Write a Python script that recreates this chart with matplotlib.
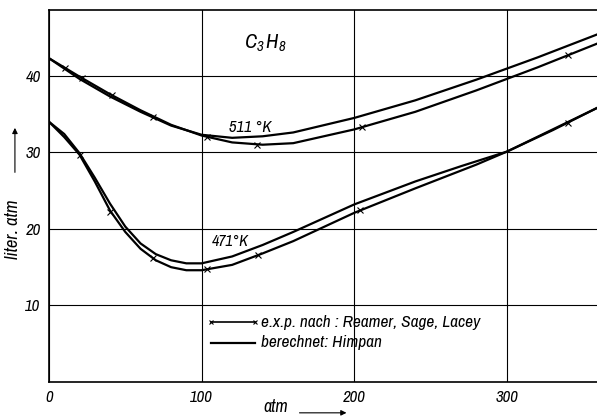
import numpy as np
import matplotlib
matplotlib.use("Agg")
import matplotlib.pyplot as plt
from matplotlib import font_manager

names = sorted({f.name for f in font_manager.fontManager.ttflist})
narrow = [n for n in names if 'Narrow' in n or 'Condensed' in n]
plt.rcParams['font.family'] = narrow[:1] + ['DejaVu Sans']
plt.rcParams['font.style'] = 'italic'
plt.rcParams['font.stretch'] = 'condensed'
if narrow:
    plt.rcParams['mathtext.fontset'] = 'custom'
    plt.rcParams['mathtext.it'] = narrow[0] + ':italic'
    plt.rcParams['mathtext.rm'] = narrow[0]

# 511 K - berechnet (Himpan)
x511_calc = [0, 20, 40, 60, 80, 100, 120, 140, 160, 200, 240, 280, 320, 359]
y511_calc = [42.3, 39.6, 37.3, 35.3, 33.5, 32.3, 31.9, 32.1, 32.6, 34.5, 36.8, 39.5, 42.4, 45.4]

# 511 K - exp. curve and measured points
x511_exp = [0, 10, 20, 40, 60, 80, 100, 120, 140, 160, 200, 240, 280, 320, 359]
y511_exp = [42.3, 41.1, 39.9, 37.6, 35.5, 33.6, 32.2, 31.3, 31.0, 31.2, 33.0, 35.3, 38.1, 41.1, 44.2]
x511_pts = [10.5, 21.6, 41.3, 68, 103.6, 136, 205, 340]
y511_pts = [41.0, 39.7, 37.5, 34.6, 32.0, 31.0, 33.3, 42.7]

# 471 K - berechnet (Himpan)
x471_calc = [0, 10, 20, 30, 40, 50, 60, 70, 80, 90, 100, 120, 140, 160, 200, 240, 270, 300, 330, 359]
y471_calc = [34.0, 32.4, 29.9, 26.7, 23.3, 20.3, 18.1, 16.7, 15.9, 15.5, 15.5, 16.4, 17.9, 19.6, 23.2, 26.2, 28.2, 30.1, 32.9, 35.8]

# 471 K - exp. curve and measured points
x471_exp = [0, 10, 20, 30, 40, 50, 60, 70, 80, 90, 100, 120, 140, 160, 200, 240, 280, 300, 330, 359]
y471_exp = [34.0, 32.0, 29.7, 26.2, 22.4, 19.6, 17.4, 15.9, 15.0, 14.6, 14.6, 15.3, 16.8, 18.4, 22.1, 25.3, 28.4, 30.1, 33.0, 35.8]
x471_pts = [20.3, 40, 68, 103.6, 137, 204, 340]
y471_pts = [29.7, 22.2, 16.2, 14.7, 16.6, 22.5, 33.9]

fig = plt.figure(figsize=(5.97, 4.17), dpi=100)
ax = fig.add_axes([0.082, 0.084, 0.918, 0.892])

lw = 1.6
ax.plot(x511_calc, y511_calc, color='black', lw=lw)
ax.plot(x511_exp, y511_exp, color='black', lw=lw)
ax.plot(x511_pts, y511_pts, 'x', color='black', ms=4, mew=0.8)
ax.plot(x471_calc, y471_calc, color='black', lw=lw)
ax.plot(x471_exp, y471_exp, color='black', lw=lw)
ax.plot(x471_pts, y471_pts, 'x', color='black', ms=4, mew=0.8)

ax.set_xlim(0, 359)
ax.set_ylim(0, 48.6)
ax.set_xticks([0, 100, 200, 300])
ax.set_yticks([10, 20, 30, 40])
ax.grid(True, color='black', lw=0.8)
ax.tick_params(length=0, labelsize=12, pad=6)
ax.spines['right'].set_visible(False)
for s in ['left', 'bottom', 'top']:
    ax.spines[s].set_linewidth(1.2)

ax.text(142, 44.3, r'$C_3\,H_8$', fontsize=15, ha='center', va='center')
ax.text(132, 33.3, '511 °K', fontsize=12, ha='center', va='center')
ax.text(119, 18.3, '471°K', fontsize=11.5, ha='center', va='center')

# legend drawn by hand like the original
ax.plot([106, 135], [7.8, 7.8], color='black', lw=1.2, marker='x', ms=3.5, mew=0.8)
ax.text(139, 7.8, 'e.x.p. nach : Reamer, Sage, Lacey', fontsize=12.5, va='center')
ax.plot([106, 135], [5.1, 5.1], color='black', lw=1.6)
ax.text(139, 5.1, 'berechnet: Himpan', fontsize=12.5, va='center')

fig.text(0.462, 0.005, 'atm', fontsize=13, ha='center', va='bottom')
fig.add_artist(matplotlib.patches.FancyArrowPatch((0.497, 0.01), (0.585, 0.01), transform=fig.transFigure,
               arrowstyle='-|>', mutation_scale=8, color='black', lw=0.8))
fig.text(0.022, 0.45, 'liter. atm', fontsize=13.5, rotation=90, ha='center', va='center')
fig.add_artist(matplotlib.patches.FancyArrowPatch((0.025, 0.58), (0.025, 0.70), transform=fig.transFigure,
               arrowstyle='-|>', mutation_scale=8, color='black', lw=0.8))

fig.savefig('out.png', dpi=100)
